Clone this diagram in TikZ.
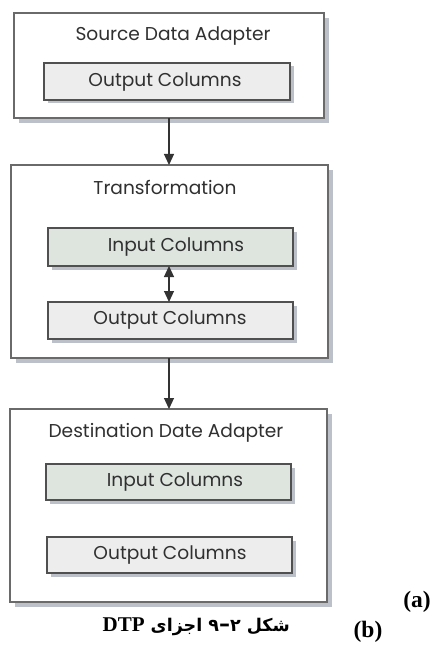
\documentclass[tikz,border=0pt]{standalone}
\usepackage{fontspec}
\setmainfont{Poppins}
\newfontfamily\capfont{Liberation Serif}
\newfontfamily\arabicfont[Script=Arabic]{DejaVu Sans}
\TeXXeTstate=1
\usetikzlibrary{arrows.meta,shadows}
\definecolor{outerline}{HTML}{6A6A6A}
\definecolor{innerline}{HTML}{505050}
\definecolor{shadowc}{HTML}{BCC0C8}
\definecolor{outfill}{HTML}{EDEDED}
\definecolor{infill}{HTML}{DEE5DF}
\definecolor{txt}{HTML}{303030}
\tikzset{
  outerbox/.style={draw=outerline, line width=1.4pt, fill=white, drop shadow={shadow xshift=5pt, shadow yshift=-5pt, fill=shadowc, opacity=1}},
  innerbox/.style={draw=innerline, line width=1.4pt, drop shadow={shadow xshift=3.5pt, shadow yshift=-3.5pt, fill=shadowc, opacity=1}},
  lbl/.style={text=txt, font=\fontsize{18.6}{22}\selectfont, inner sep=0pt},
  conn/.style={draw=black!80, line width=1.1pt, -{Triangle[width=10pt,length=11pt]}},
  dconn/.style={draw=black!80, line width=1.1pt, {Triangle[width=10pt,length=11pt]}-{Triangle[width=10pt,length=11pt]}},
  capt/.style={font=\capfont\bfseries\fontsize{23.5}{26}\selectfont, inner sep=0pt}
}
\begin{document}
\begin{tikzpicture}[x=1pt,y=-1pt]
\useasboundingbox (0,0) rectangle (435,647);
% outer boxes
\path[outerbox] (14,13) rectangle (324,118);
\path[outerbox] (11,165) rectangle (328,358);
\path[outerbox] (10,409) rectangle (327,602);
\coordinate (b1bot) at (169,118);
\coordinate (b2top) at (169,165);
\coordinate (b2bot) at (169,358);
\coordinate (b3top) at (169,409);
% inner boxes
\path[innerbox, fill=outfill] (44,63) rectangle (290,100);
\path[innerbox, fill=infill] (48,228) rectangle (293,266);
\path[innerbox, fill=outfill] (48,302) rectangle (293,339);
\path[innerbox, fill=infill] (46,464) rectangle (291,500);
\path[innerbox, fill=outfill] (47,537) rectangle (292,573);
\coordinate (in2bot) at (169,266);
\coordinate (out2top) at (169,302);
% labels
\node[lbl] (t1) at (173,36) {Source Data Adapter};
\node[lbl] (o1) at (165,82) {Output Columns};
\node[lbl] (t2) at (165,187) {Transformation};
\node[lbl] (i2) at (176,247) {Input Columns};
\node[lbl] (o2) at (170,320) {Output Columns};
\node[lbl] (t3) at (166,433) {Destination Date Adapter};
\node[lbl] (i3) at (175,482) {Input Columns};
\node[lbl] (o3) at (170,555) {Output Columns};
% connectors
\draw[conn] (b1bot) -- (b2top);
\draw[conn] (b2bot) -- (b3top);
\draw[dconn] (in2bot) -- (out2top);
% caption
\node[capt] (ca) at (417,602) {(a)};
\node[capt] (cb) at (368,632) {(b)};
\node[capt, anchor=east] (cc) at (290,627) {\arabicfont\bfseries\fontsize{17.5}{20}\selectfont\beginR شکل \beginL ۹{\fontsize{22}{20}\selectfont –}۲\endL{} اجزای \beginL{\capfont\bfseries\fontsize{21}{22}\selectfont DTP}\endL\endR};
\end{tikzpicture}
\end{document}
